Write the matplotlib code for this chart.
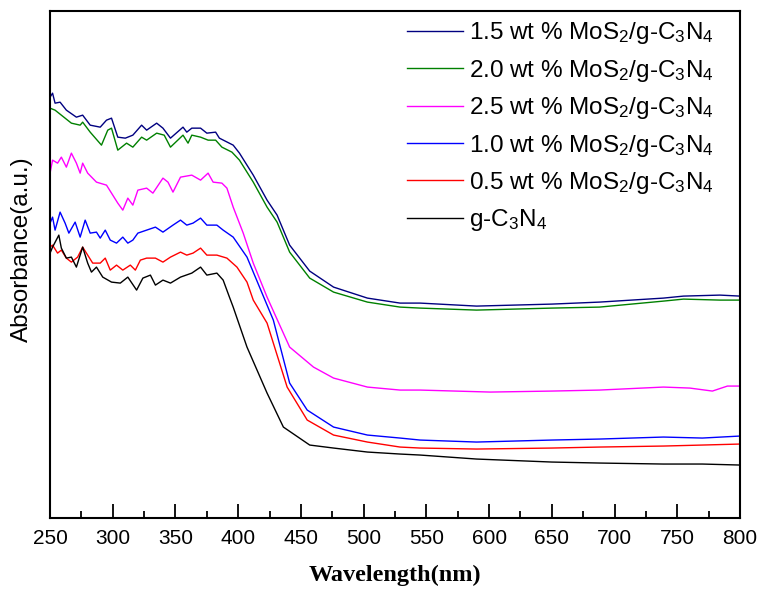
"""
UV-vis diffuse reflectance spectra of MoS2/g-C3N4 composites.
Values read off the published figure (arbitrary absorbance units).
"""

import matplotlib
matplotlib.use("Agg")
import matplotlib.pyplot as plt
from matplotlib.ticker import MultipleLocator

plt.rcParams['mathtext.default'] = 'regular'
plt.rcParams['font.family'] = ['Liberation Sans', 'DejaVu Sans']

# 1.5 wt % MoS2/g-C3N4 (navy)
wl_15 = [250, 252, 254, 258, 263, 271, 276, 282, 290, 295, 299, 304, 310, 316, 323,
         327, 335, 340, 346, 356, 359, 363, 370, 375, 382, 385, 396, 401, 407, 412,
         423, 431, 441, 457, 476, 503, 529, 545, 590, 650, 688, 739, 755, 784, 800]
abs_15 = [4.21, 4.25, 4.15, 4.16, 4.08, 4.01, 4.03, 3.93, 3.91, 3.98, 4.00, 3.81, 3.80, 3.83, 3.93,
          3.88, 3.95, 3.90, 3.80, 3.91, 3.86, 3.90, 3.90, 3.85, 3.86, 3.80, 3.73, 3.65, 3.53, 3.43,
          3.18, 3.03, 2.73, 2.47, 2.31, 2.20, 2.15, 2.15, 2.12, 2.14, 2.16, 2.20, 2.22, 2.23, 2.22]

# 2.0 wt % (green)
wl_20 = [250, 254, 259, 267, 274, 276, 282, 291, 296, 299, 304, 311, 316, 323, 327,
         335, 341, 346, 356, 360, 363, 370, 376, 382, 387, 395, 401, 407, 412, 423,
         431, 441, 457, 476, 503, 529, 545, 590, 650, 688, 739, 755, 784, 800]
abs_20 = [4.10, 4.08, 4.03, 3.95, 3.93, 3.96, 3.86, 3.73, 3.88, 3.90, 3.68, 3.75, 3.71, 3.81, 3.78,
          3.85, 3.83, 3.71, 3.83, 3.75, 3.83, 3.81, 3.78, 3.78, 3.71, 3.66, 3.58, 3.46, 3.36, 3.11,
          2.96, 2.66, 2.40, 2.26, 2.16, 2.11, 2.10, 2.08, 2.10, 2.11, 2.17, 2.19, 2.18, 2.18]

# 2.5 wt % (magenta)
wl_25 = [250, 252, 256, 259, 263, 267, 271, 274, 276, 280, 287, 295, 299, 304, 308, 312,
         316, 320, 327, 332, 340, 344, 348, 354, 363, 370, 376, 380, 387, 391, 396, 404,
         412, 423, 441, 460, 476, 503, 529, 545, 601, 650, 688, 739, 760, 778, 790, 800]
abs_25 = [3.45, 3.58, 3.55, 3.61, 3.51, 3.65, 3.55, 3.45, 3.55, 3.45, 3.36, 3.33, 3.25, 3.15, 3.08, 3.20,
          3.13, 3.28, 3.30, 3.25, 3.40, 3.36, 3.26, 3.41, 3.43, 3.38, 3.45, 3.36, 3.35, 3.30, 3.11, 2.85,
          2.55, 2.21, 1.71, 1.51, 1.40, 1.31, 1.28, 1.28, 1.26, 1.27, 1.28, 1.31, 1.30, 1.27, 1.32, 1.32]

# 1.0 wt % (blue)
wl_10 = [250, 252, 254, 258, 262, 265, 270, 274, 278, 282, 287, 290, 294, 298, 303, 308,
         312, 316, 320, 327, 334, 340, 348, 354, 359, 364, 370, 375, 383, 388, 396, 407,
         417, 428, 441, 455, 476, 503, 529, 545, 590, 650, 688, 739, 770, 800]
abs_10 = [2.95, 3.01, 2.88, 3.06, 2.95, 2.85, 2.96, 2.81, 2.98, 2.85, 2.86, 2.80, 2.88, 2.78, 2.75, 2.81,
          2.75, 2.78, 2.85, 2.88, 2.91, 2.86, 2.93, 2.98, 2.93, 2.95, 3.00, 2.93, 2.93, 2.88, 2.81, 2.61,
          2.31, 1.98, 1.35, 1.08, 0.91, 0.83, 0.80, 0.78, 0.76, 0.78, 0.79, 0.81, 0.80, 0.82]

# 0.5 wt % (red)
wl_05 = [250, 252, 256, 259, 263, 267, 272, 276, 280, 284, 290, 294, 298, 303, 308,
         314, 318, 322, 327, 334, 340, 346, 354, 359, 364, 370, 375, 383, 391, 399,
         407, 412, 423, 439, 455, 476, 503, 529, 545, 590, 650, 688, 739, 770, 800]
abs_05 = [2.71, 2.73, 2.65, 2.68, 2.60, 2.56, 2.61, 2.71, 2.63, 2.55, 2.55, 2.60, 2.48, 2.53, 2.48,
          2.53, 2.48, 2.58, 2.60, 2.60, 2.56, 2.61, 2.66, 2.63, 2.65, 2.70, 2.63, 2.63, 2.60, 2.51,
          2.36, 2.18, 1.95, 1.31, 0.98, 0.83, 0.76, 0.71, 0.70, 0.69, 0.70, 0.71, 0.72, 0.73, 0.74]

# pure g-C3N4 (black)
wl_cn = [250, 252, 257, 259, 263, 267, 271, 276, 280, 283, 287, 292, 299, 306, 312,
         319, 324, 330, 334, 340, 346, 354, 363, 370, 375, 383, 388, 393, 396, 407,
         423, 436, 457, 476, 503, 529, 545, 590, 650, 688, 739, 770, 800]
abs_cn = [2.65, 2.71, 2.83, 2.70, 2.60, 2.61, 2.51, 2.71, 2.55, 2.46, 2.51, 2.41, 2.36, 2.35, 2.41,
          2.28, 2.40, 2.43, 2.33, 2.38, 2.35, 2.41, 2.45, 2.51, 2.43, 2.45, 2.38, 2.21, 2.11, 1.71,
          1.25, 0.91, 0.73, 0.70, 0.66, 0.64, 0.63, 0.59, 0.56, 0.55, 0.54, 0.54, 0.53]

labels = [r'1.5 wt % MoS$_2$/g-C$_3$N$_4$',
          r'2.0 wt % MoS$_2$/g-C$_3$N$_4$',
          r'2.5 wt % MoS$_2$/g-C$_3$N$_4$',
          r'1.0 wt % MoS$_2$/g-C$_3$N$_4$',
          r'0.5 wt % MoS$_2$/g-C$_3$N$_4$',
          r'g-C$_3$N$_4$']


def main():
    fig = plt.figure(figsize=(7.7, 5.89), dpi=100)
    ax = fig.add_axes([0.065, 0.1205, 0.896, 0.8605])

    series = [(wl_15, abs_15, '#000080'),
              (wl_20, abs_20, '#008000'),
              (wl_25, abs_25, '#ff00ff'),
              (wl_10, abs_10, '#0000ff'),
              (wl_05, abs_05, '#ff0000'),
              (wl_cn, abs_cn, '#000000')]
    for (wl, a, c), lab in zip(series, labels):
        ax.plot(wl, a, color=c, linewidth=1.0, label=lab)

    ax.set_xlim(250, 800)
    ax.set_ylim(0, 5.07)
    ax.xaxis.set_major_locator(MultipleLocator(50))
    ax.xaxis.set_minor_locator(MultipleLocator(25))
    ax.tick_params(axis='x', which='major', direction='in', length=10, width=1.3,
                   pad=8, labelsize=15)
    ax.tick_params(axis='x', which='minor', direction='in', length=5, width=1.3)
    ax.set_yticks([])
    for sp in ax.spines.values():
        sp.set_linewidth(1.5)

    ax.set_xlabel('Wavelength(nm)', fontsize=17.5, fontweight='bold',
                  family=['Liberation Serif', 'DejaVu Serif'], labelpad=12)
    ax.set_ylabel('Absorbance(a.u.)', fontsize=17.5)
    ax.yaxis.set_label_coords(-0.025, 0.53)

    ax.legend(loc='upper left', bbox_to_anchor=(0.5, 1.006), frameon=False,
              fontsize=17.5, handlelength=2.3, handletextpad=0.25,
              labelspacing=0.47, borderpad=0)

    fig.savefig('out.png', dpi=100)


if __name__ == "__main__":
    main()
